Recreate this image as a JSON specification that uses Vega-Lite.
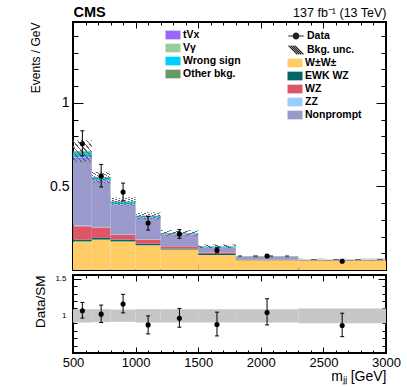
{
"$schema": "https://vega.github.io/schema/vega-lite/v6.json",
"autosize": {"type": "none"},
"padding": {"left": 73, "top": 22, "right": 334, "bottom": 365},
"background": "white",
"bounds": "flush",
"spacing": 5,
"config": {
  "view": {"stroke": "black", "strokeWidth": 2},
  "font": "Liberation Sans",
  "axis": {"domain": false, "grid": false, "tickColor": "black", "tickWidth": 1, "labelColor": "black", "titleColor": "black", "labelFont": "Liberation Sans", "titleFont": "Liberation Sans", "labelOverlap": false, "labelFlush": false, "zindex": 1}
},
"resolve": {"scale": {"x": "independent", "y": "independent"}},
"datasets": {
  "bkg": [
    {"lo":500,"hi":650,"proc":"W±W±","val":0.171},{"lo":500,"hi":650,"proc":"EWK WZ","val":0.011},{"lo":500,"hi":650,"proc":"WZ","val":0.080},{"lo":500,"hi":650,"proc":"ZZ","val":0.004},{"lo":500,"hi":650,"proc":"Nonprompt","val":0.394},{"lo":500,"hi":650,"proc":"tVx","val":0.012},{"lo":500,"hi":650,"proc":"Vγ","val":0.004},{"lo":500,"hi":650,"proc":"Wrong sign","val":0.025},{"lo":500,"hi":650,"proc":"Other bkg.","val":0.009},
    {"lo":650,"hi":800,"proc":"W±W±","val":0.182},{"lo":650,"hi":800,"proc":"EWK WZ","val":0.010},{"lo":650,"hi":800,"proc":"WZ","val":0.063},{"lo":650,"hi":800,"proc":"ZZ","val":0.003},{"lo":650,"hi":800,"proc":"Nonprompt","val":0.272},{"lo":650,"hi":800,"proc":"tVx","val":0.006},{"lo":650,"hi":800,"proc":"Vγ","val":0.002},{"lo":650,"hi":800,"proc":"Wrong sign","val":0.014},{"lo":650,"hi":800,"proc":"Other bkg.","val":0.004},
    {"lo":800,"hi":1000,"proc":"W±W±","val":0.171},{"lo":800,"hi":1000,"proc":"EWK WZ","val":0.011},{"lo":800,"hi":1000,"proc":"WZ","val":0.028},{"lo":800,"hi":1000,"proc":"ZZ","val":0.002},{"lo":800,"hi":1000,"proc":"Nonprompt","val":0.175},{"lo":800,"hi":1000,"proc":"tVx","val":0.004},{"lo":800,"hi":1000,"proc":"Vγ","val":0.002},{"lo":800,"hi":1000,"proc":"Wrong sign","val":0.013},{"lo":800,"hi":1000,"proc":"Other bkg.","val":0.004},
    {"lo":1000,"hi":1200,"proc":"W±W±","val":0.148},{"lo":1000,"hi":1200,"proc":"EWK WZ","val":0.009},{"lo":1000,"hi":1200,"proc":"WZ","val":0.025},{"lo":1000,"hi":1200,"proc":"ZZ","val":0.002},{"lo":1000,"hi":1200,"proc":"Nonprompt","val":0.127},{"lo":1000,"hi":1200,"proc":"tVx","val":0.003},{"lo":1000,"hi":1200,"proc":"Vγ","val":0.001},{"lo":1000,"hi":1200,"proc":"Wrong sign","val":0.008},{"lo":1000,"hi":1200,"proc":"Other bkg.","val":0.002},
    {"lo":1200,"hi":1500,"proc":"W±W±","val":0.122},{"lo":1200,"hi":1500,"proc":"EWK WZ","val":0.006},{"lo":1200,"hi":1500,"proc":"WZ","val":0.014},{"lo":1200,"hi":1500,"proc":"ZZ","val":0.001},{"lo":1200,"hi":1500,"proc":"Nonprompt","val":0.069},{"lo":1200,"hi":1500,"proc":"tVx","val":0.002},{"lo":1200,"hi":1500,"proc":"Vγ","val":0.001},{"lo":1200,"hi":1500,"proc":"Wrong sign","val":0.005},{"lo":1200,"hi":1500,"proc":"Other bkg.","val":0.002},
    {"lo":1500,"hi":1800,"proc":"W±W±","val":0.090},{"lo":1500,"hi":1800,"proc":"EWK WZ","val":0.005},{"lo":1500,"hi":1800,"proc":"WZ","val":0.007},{"lo":1500,"hi":1800,"proc":"ZZ","val":0.001},{"lo":1500,"hi":1800,"proc":"Nonprompt","val":0.029},{"lo":1500,"hi":1800,"proc":"tVx","val":0.002},{"lo":1500,"hi":1800,"proc":"Vγ","val":0.001},{"lo":1500,"hi":1800,"proc":"Wrong sign","val":0.005},{"lo":1500,"hi":1800,"proc":"Other bkg.","val":0.002},
    {"lo":1800,"hi":2300,"proc":"W±W±","val":0.058},{"lo":1800,"hi":2300,"proc":"EWK WZ","val":0.003},{"lo":1800,"hi":2300,"proc":"WZ","val":0.004},{"lo":1800,"hi":2300,"proc":"ZZ","val":0.001},{"lo":1800,"hi":2300,"proc":"Nonprompt","val":0.012},{"lo":1800,"hi":2300,"proc":"tVx","val":0.001},{"lo":1800,"hi":2300,"proc":"Vγ","val":0.0005},{"lo":1800,"hi":2300,"proc":"Wrong sign","val":0.002},{"lo":1800,"hi":2300,"proc":"Other bkg.","val":0.0005},
    {"lo":2300,"hi":3000,"proc":"W±W±","val":0.054},{"lo":2300,"hi":3000,"proc":"EWK WZ","val":0.002},{"lo":2300,"hi":3000,"proc":"WZ","val":0.002},{"lo":2300,"hi":3000,"proc":"ZZ","val":0.0005},{"lo":2300,"hi":3000,"proc":"Nonprompt","val":0.003},{"lo":2300,"hi":3000,"proc":"tVx","val":0.0005},{"lo":2300,"hi":3000,"proc":"Vγ","val":0.0002},{"lo":2300,"hi":3000,"proc":"Wrong sign","val":0.0005},{"lo":2300,"hi":3000,"proc":"Other bkg.","val":0.0003}
  ],
  "unc": [
    {"lo":500,"hi":650,"ulo":0.645,"uhi":0.777},
    {"lo":650,"hi":800,"ulo":0.52,"uhi":0.588},
    {"lo":800,"hi":1000,"ulo":0.385,"uhi":0.435},
    {"lo":1000,"hi":1200,"ulo":0.305,"uhi":0.345},
    {"lo":1200,"hi":1500,"ulo":0.205,"uhi":0.238},
    {"lo":1500,"hi":1800,"ulo":0.132,"uhi":0.152},
    {"lo":1800,"hi":2300,"ulo":0.076,"uhi":0.088},
    {"lo":2300,"hi":3000,"ulo":0.058,"uhi":0.067}
  ],
  "obs": [
    {"x":575,"y":0.755,"ylo":0.683,"yhi":0.833},
    {"x":725,"y":0.563,"ylo":0.497,"yhi":0.632},
    {"x":900,"y":0.466,"ylo":0.414,"yhi":0.52},
    {"x":1100,"y":0.281,"ylo":0.239,"yhi":0.321},
    {"x":1350,"y":0.216,"ylo":0.19,"yhi":0.242},
    {"x":1650,"y":0.118,"ylo":0.103,"yhi":0.133},
    {"x":2050,"y":0.084,"ylo":0.075,"yhi":0.093},
    {"x":2650,"y":0.052,"ylo":0.046,"yhi":0.058}
  ],
  "ratio": [
    {"x":575,"r":1.068,"rlo":0.97,"rhi":1.18},
    {"x":725,"r":1.023,"rlo":0.91,"rhi":1.145},
    {"x":900,"r":1.158,"rlo":1.04,"rhi":1.29},
    {"x":1100,"r":0.878,"rlo":0.757,"rhi":1.0},
    {"x":1350,"r":0.968,"rlo":0.847,"rhi":1.1},
    {"x":1650,"r":0.883,"rlo":0.73,"rhi":1.05},
    {"x":2050,"r":1.045,"rlo":0.878,"rhi":1.23},
    {"x":2650,"r":0.87,"rlo":0.72,"rhi":1.036}
  ],
  "band": [
    {"lo":500,"hi":650,"blo":0.91,"bhi":1.09},
    {"lo":650,"hi":800,"blo":0.915,"bhi":1.09},
    {"lo":800,"hi":1000,"blo":0.92,"bhi":1.085},
    {"lo":1000,"hi":1200,"blo":0.91,"bhi":1.09},
    {"lo":1200,"hi":1500,"blo":0.91,"bhi":1.09},
    {"lo":1500,"hi":1800,"blo":0.91,"bhi":1.09},
    {"lo":1800,"hi":2300,"blo":0.91,"bhi":1.09},
    {"lo":2300,"hi":3000,"blo":0.9,"bhi":1.1}
  ]
},
"vconcat": [
{
  "width": 313, "height": 248,
  "resolve": {"axis": {"x": "independent", "y": "independent"}},
  "layer": [
    {
      "data": {"name": "bkg"},
      "transform": [{"stack": "val", "groupby": ["lo"], "as": ["s0", "s1"]}, {"filter": {"field": "proc", "oneOf": ["W±W±", "EWK WZ", "WZ", "ZZ", "Nonprompt"]}}],
      "mark": {"type": "rect"},
      "encoding": {
        "x": {"field": "lo", "type": "quantitative", "scale": {"domain": [500, 3000], "nice": false, "zero": false},
              "axis": {"orient": "bottom", "values": [500,1000,1500,2000,2500,3000], "labels": false, "title": null, "tickSize": 6, "offset": -6}},
        "x2": {"field": "hi"},
        "y": {"field": "s1", "type": "quantitative", "scale": {"domain": [0, 1.484], "nice": false, "zero": false},
              "axis": {"orient": "left", "values": [0.5, 1], "format": "~g", "ticks": false, "labelFontSize": 14, "labelPadding": 4,
                       "title": "Events / GeV", "titleFontSize": 12, "titleFontWeight": "normal", "titleAngle": 270, "titleX": -38, "titleY": 0, "titleAlign": "right", "titleBaseline": "middle"}},
        "y2": {"field": "s0"},
        "color": {"field": "proc", "type": "nominal",
                  "scale": {"domain": ["W±W±", "EWK WZ", "WZ", "ZZ", "Nonprompt"], "range": ["#FFCC66", "#006666", "#DD5566", "#99CCFF", "#9999CC"]},
                  "legend": {"title": null, "orient": "none", "legendX": 215, "legendY": 34, "symbolType": "M-1.07,-0.62H1.07V0.62H-1.07Z", "symbolSize": 196, "symbolStrokeWidth": 0, "symbolOpacity": 1,
                             "labelFont": "Liberation Sans", "labelFontSize": 10.5, "labelFontWeight": "bold", "labelColor": "black", "labelOffset": 3, "rowPadding": 0}}
      }
    },
    {
      "data": {"name": "bkg"},
      "transform": [{"stack": "val", "groupby": ["lo"], "as": ["s0", "s1"]}, {"filter": {"field": "proc", "oneOf": ["tVx", "Vγ", "Wrong sign", "Other bkg."]}}],
      "mark": {"type": "rect"},
      "encoding": {
        "x": {"field": "lo", "type": "quantitative", "scale": {"domain": [500, 3000], "nice": false, "zero": false},
              "axis": {"orient": "bottom", "values": [600,700,800,900,1100,1200,1300,1400,1600,1700,1800,1900,2100,2200,2300,2400,2600,2700,2800,2900], "labels": false, "title": null, "tickSize": 3, "offset": -3}},
        "x2": {"field": "hi"},
        "y": {"field": "s1", "type": "quantitative", "scale": {"domain": [0, 1.484], "nice": false, "zero": false},
              "axis": {"orient": "left", "values": [0, 0.5, 1], "labels": false, "title": null, "tickSize": 10, "offset": -10}},
        "y2": {"field": "s0"},
        "fill": {"field": "proc", "type": "nominal",
                 "scale": {"domain": ["tVx", "Vγ", "Wrong sign", "Other bkg."], "range": ["#9966FF", "#99CC99", "#00CCFF", "#669966"]},
                 "legend": {"title": null, "orient": "none", "legendX": 93, "legendY": 6, "symbolType": "M-1.07,-0.62H1.07V0.62H-1.07Z", "symbolSize": 196, "symbolStrokeWidth": 0, "symbolOpacity": 1,
                            "labelFont": "Liberation Sans", "labelFontSize": 10.5, "labelFontWeight": "bold", "labelColor": "black", "labelOffset": 3, "rowPadding": 0}}
      }
    },
    {
      "data": {"name": "unc"},
      "mark": {"type": "rect", "fill": {"gradient": "linear", "x1": 0, "y1": 1, "x2": 1, "y2": 0, "stops": [
        {"offset": 0, "color": "rgba(0,0,0,0)"}, {"offset": 0.09, "color": "rgba(0,0,0,0)"}, {"offset": 0.09, "color": "#666"}, {"offset": 0.125, "color": "#666"},
        {"offset": 0.125, "color": "rgba(0,0,0,0)"}, {"offset": 0.215, "color": "rgba(0,0,0,0)"}, {"offset": 0.215, "color": "#666"}, {"offset": 0.25, "color": "#666"},
        {"offset": 0.25, "color": "rgba(0,0,0,0)"}, {"offset": 0.34, "color": "rgba(0,0,0,0)"}, {"offset": 0.34, "color": "#666"}, {"offset": 0.375, "color": "#666"},
        {"offset": 0.375, "color": "rgba(0,0,0,0)"}, {"offset": 0.465, "color": "rgba(0,0,0,0)"}, {"offset": 0.465, "color": "#666"}, {"offset": 0.5, "color": "#666"},
        {"offset": 0.5, "color": "rgba(0,0,0,0)"}, {"offset": 0.59, "color": "rgba(0,0,0,0)"}, {"offset": 0.59, "color": "#666"}, {"offset": 0.625, "color": "#666"},
        {"offset": 0.625, "color": "rgba(0,0,0,0)"}, {"offset": 0.715, "color": "rgba(0,0,0,0)"}, {"offset": 0.715, "color": "#666"}, {"offset": 0.75, "color": "#666"},
        {"offset": 0.75, "color": "rgba(0,0,0,0)"}, {"offset": 0.84, "color": "rgba(0,0,0,0)"}, {"offset": 0.84, "color": "#666"}, {"offset": 0.875, "color": "#666"},
        {"offset": 0.875, "color": "rgba(0,0,0,0)"}, {"offset": 0.965, "color": "rgba(0,0,0,0)"}, {"offset": 0.965, "color": "#666"}, {"offset": 1, "color": "#666"}
      ]}},
      "encoding": {
        "x": {"field": "lo", "type": "quantitative", "scale": {"domain": [500, 3000], "nice": false, "zero": false},
              "axis": {"orient": "top", "values": [500,1000,1500,2000,2500,3000], "labels": false, "tickSize": 6, "offset": -6,
                       "title": "137 fb⁻¹ (13 TeV)", "titleFontSize": 12.5, "titleFontWeight": "normal", "titleX": 313, "titleY": -11.3, "titleAlign": "right", "titleBaseline": "alphabetic", "titleAngle": 0}},
        "x2": {"field": "hi"},
        "y": {"field": "ulo", "type": "quantitative", "scale": {"domain": [0, 1.484], "nice": false, "zero": false},
              "axis": {"orient": "left", "values": [0.1,0.2,0.3,0.4,0.6,0.7,0.8,0.9,1.1,1.2,1.3,1.4], "labels": false, "title": null, "tickSize": 5, "offset": -5}},
        "y2": {"field": "uhi"}
      }
    },
    {
      "data": {"name": "obs"},
      "mark": {"type": "rule", "color": "black", "strokeWidth": 1},
      "encoding": {
        "x": {"field": "x", "type": "quantitative", "scale": {"domain": [500, 3000], "nice": false, "zero": false},
              "axis": {"orient": "top", "values": [600,700,800,900,1100,1200,1300,1400,1600,1700,1800,1900,2100,2200,2300,2400,2600,2700,2800,2900], "labels": false, "tickSize": 3, "offset": -3,
                       "title": "CMS", "titleFontSize": 14.5, "titleFontWeight": "bold", "titleX": 0, "titleY": -8.3, "titleAlign": "left", "titleBaseline": "alphabetic", "titleAngle": 0}},
        "y": {"field": "ylo", "type": "quantitative", "scale": {"domain": [0, 1.484], "nice": false, "zero": false},
              "axis": {"orient": "right", "values": [0, 0.5, 1], "labels": false, "title": null, "tickSize": 10, "offset": -10}},
        "y2": {"field": "yhi"}
      }
    },
    {
      "data": {"name": "obs"},
      "mark": {"type": "tick", "orient": "horizontal", "size": 4, "thickness": 1, "color": "black", "opacity": 1},
      "encoding": {
        "x": {"field": "x", "type": "quantitative", "scale": {"domain": [500, 3000], "nice": false, "zero": false}, "axis": null},
        "y": {"field": "yhi", "type": "quantitative", "scale": {"domain": [0, 1.484], "nice": false, "zero": false},
              "axis": {"orient": "right", "values": [0.1,0.2,0.3,0.4,0.6,0.7,0.8,0.9,1.1,1.2,1.3,1.4], "labels": false, "title": null, "tickSize": 5, "offset": -5}}
      }
    },
    {
      "data": {"name": "obs"},
      "mark": {"type": "tick", "orient": "horizontal", "size": 4, "thickness": 1, "color": "black", "opacity": 1},
      "encoding": {
        "x": {"field": "x", "type": "quantitative", "scale": {"domain": [500, 3000], "nice": false, "zero": false}, "axis": null},
        "y": {"field": "ylo", "type": "quantitative", "scale": {"domain": [0, 1.484], "nice": false, "zero": false}, "axis": null}
      }
    },
    {
      "data": {"name": "obs"},
      "mark": {"type": "circle", "size": 26, "color": "black", "opacity": 1},
      "encoding": {
        "x": {"field": "x", "type": "quantitative", "scale": {"domain": [500, 3000], "nice": false, "zero": false}, "axis": null},
        "y": {"field": "y", "type": "quantitative", "scale": {"domain": [0, 1.484], "nice": false, "zero": false}, "axis": null}
      }
    },
    {
      "data": {"values": [{"lab": "Data"}, {"lab": "Bkg. unc."}]},
      "mark": {"type": "point", "opacity": 0, "filled": false, "color": "black", "strokeWidth": 1.2},
      "encoding": {
        "shape": {"field": "lab", "type": "nominal",
                  "scale": {"domain": ["Data", "Bkg. unc."], "range": [
                    "M-1.1,0H1.1M0.4,0A0.4,0.4,0,1,1,-0.4,0A0.4,0.4,0,1,1,0.4,0M0.28,0A0.28,0.28,0,1,1,-0.28,0A0.28,0.28,0,1,1,0.28,0M0.16,0A0.16,0.16,0,1,1,-0.16,0A0.16,0.16,0,1,1,0.16,0",
                    "M-1.07,-0.62L0.17,0.62M-0.77,-0.62L0.47,0.62M-0.47,-0.62L0.77,0.62M-0.17,-0.62L1.07,0.62"]},
                  "legend": {"title": null, "orient": "none", "legendX": 215, "legendY": 6, "symbolSize": 196, "symbolStrokeColor": "#222", "symbolStrokeWidth": 1.2, "symbolOpacity": 1,
                             "labelFont": "Liberation Sans", "labelFontSize": 10.5, "labelFontWeight": "bold", "labelColor": "black", "labelOffset": 3, "rowPadding": 0}}
      }
    }
  ]
},
{
  "width": 313, "height": 78,
  "resolve": {"axis": {"x": "independent", "y": "independent"}},
  "layer": [
    {
      "data": {"name": "band"},
      "mark": {"type": "rect", "fill": "#c6c6c6"},
      "encoding": {
        "x": {"field": "lo", "type": "quantitative", "scale": {"domain": [500, 3000], "nice": false, "zero": false},
              "axis": {"orient": "bottom", "values": [500,1000,1500,2000,2500,3000], "format": "d", "ticks": false, "labelFontSize": 13, "labelPadding": 3,
                       "title": "mⱼⱼ [GeV]", "titleFontSize": 14, "titleFontWeight": "normal", "titleX": 313, "titleY": 27, "titleAlign": "right", "titleBaseline": "alphabetic"}},
        "x2": {"field": "hi"},
        "y": {"field": "blo", "type": "quantitative", "scale": {"domain": [0.5, 1.55], "nice": false, "zero": false},
              "axis": {"orient": "left", "values": [1, 1.5], "format": "~g", "ticks": false, "labelFontSize": 8, "labelPadding": 7,
                       "title": "Data/SM", "titleFontSize": 13.5, "titleFontWeight": "normal", "titleAngle": 270, "titleX": -33, "titleY": 0, "titleAlign": "right", "titleBaseline": "middle"}},
        "y2": {"field": "bhi"}
      }
    },
    {
      "mark": {"type": "rule", "color": "#444", "strokeDash": [3, 3], "strokeWidth": 1},
      "encoding": {
        "y": {"datum": 1, "type": "quantitative", "scale": {"domain": [0.5, 1.55], "nice": false, "zero": false},
              "axis": {"orient": "left", "values": [0.5, 1, 1.5], "labels": false, "title": null, "tickSize": 8, "offset": -8}}
      }
    },
    {
      "data": {"name": "ratio"},
      "mark": {"type": "rule", "color": "black", "strokeWidth": 1},
      "encoding": {
        "x": {"field": "x", "type": "quantitative", "scale": {"domain": [500, 3000], "nice": false, "zero": false},
              "axis": {"orient": "bottom", "values": [500,1000,1500,2000,2500,3000], "labels": false, "title": null, "tickSize": 6, "offset": -6}},
        "y": {"field": "rlo", "type": "quantitative", "scale": {"domain": [0.5, 1.55], "nice": false, "zero": false},
              "axis": {"orient": "left", "values": [0.6,0.7,0.8,0.9,1.1,1.2,1.3,1.4], "labels": false, "title": null, "tickSize": 4, "offset": -4}},
        "y2": {"field": "rhi"}
      }
    },
    {
      "data": {"name": "ratio"},
      "mark": {"type": "tick", "orient": "horizontal", "size": 4, "thickness": 1, "color": "black", "opacity": 1},
      "encoding": {
        "x": {"field": "x", "type": "quantitative", "scale": {"domain": [500, 3000], "nice": false, "zero": false},
              "axis": {"orient": "bottom", "values": [600,700,800,900,1100,1200,1300,1400,1600,1700,1800,1900,2100,2200,2300,2400,2600,2700,2800,2900], "labels": false, "title": null, "tickSize": 3, "offset": -3}},
        "y": {"field": "rhi", "type": "quantitative", "scale": {"domain": [0.5, 1.55], "nice": false, "zero": false},
              "axis": {"orient": "right", "values": [0.5, 1, 1.5], "labels": false, "title": null, "tickSize": 8, "offset": -8}}
      }
    },
    {
      "data": {"name": "ratio"},
      "mark": {"type": "tick", "orient": "horizontal", "size": 4, "thickness": 1, "color": "black", "opacity": 1},
      "encoding": {
        "x": {"field": "x", "type": "quantitative", "scale": {"domain": [500, 3000], "nice": false, "zero": false},
              "axis": {"orient": "top", "values": [500,1000,1500,2000,2500,3000], "labels": false, "title": null, "tickSize": 6, "offset": -6}},
        "y": {"field": "rlo", "type": "quantitative", "scale": {"domain": [0.5, 1.55], "nice": false, "zero": false},
              "axis": {"orient": "right", "values": [0.6,0.7,0.8,0.9,1.1,1.2,1.3,1.4], "labels": false, "title": null, "tickSize": 4, "offset": -4}}
      }
    },
    {
      "data": {"name": "ratio"},
      "mark": {"type": "circle", "size": 26, "color": "black", "opacity": 1},
      "encoding": {
        "x": {"field": "x", "type": "quantitative", "scale": {"domain": [500, 3000], "nice": false, "zero": false},
              "axis": {"orient": "top", "values": [600,700,800,900,1100,1200,1300,1400,1600,1700,1800,1900,2100,2200,2300,2400,2600,2700,2800,2900], "labels": false, "title": null, "tickSize": 3, "offset": -3}},
        "y": {"field": "r", "type": "quantitative", "scale": {"domain": [0.5, 1.55], "nice": false, "zero": false}, "axis": null}
      }
    }
  ]
}
]
}
